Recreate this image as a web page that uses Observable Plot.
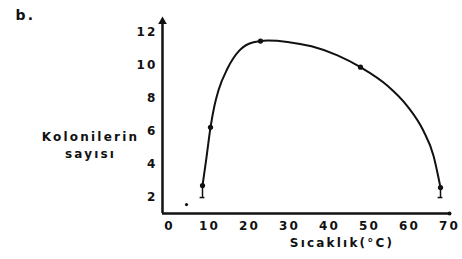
<!DOCTYPE html>
<html>
<head>
<meta charset="utf-8">
<script src="https://cdn.jsdelivr.net/npm/d3@7"></script>
<script src="https://cdn.jsdelivr.net/npm/@observablehq/plot@0.6"></script>
<style>
  html, body { margin: 0; padding: 0; background: #fff; }
  #chart svg { display: block; }
  #chart svg text { letter-spacing: 2.2px; font-weight: bold; }
</style>
</head>
<body>
<div id="chart"></div>
<script>
// Fitted curve (temperature °C, colony count)
const curveTemp  = [8.75, 9.75, 10.75, 11.75, 12.75, 15, 18, 21.5, 25, 30, 36, 42.5, 48.25, 55, 60, 64, 66.5, 68.25];
const curveCount = [2.68, 4.4, 6.22, 7.55, 8.48, 9.8, 10.9, 11.4, 11.5, 11.42, 11.15, 10.6, 9.88, 8.75, 7.5, 6.0, 4.5, 2.56];

// Measured points
const pointTemp  = [8.75, 10.75, 23.25, 48.25, 68.25];
const pointCount = [2.68, 6.22, 11.47, 9.88, 2.56];

// Isolated point with no growth curve
const lonePointTemp  = [4.75];
const lonePointCount = [1.52];

// Short vertical bars below the end points
const barTemp = [8.75, 68.25];
const barLow  = [1.95, 1.95];
const barHigh = [2.68, 2.56];

const xTicks = [0, 10, 20, 30, 40, 50, 60, 70];
const yTicks = [2, 4, 6, 8, 10, 12];

const xDomain = [-1.25, 70.5];
const yDomain = [0.98, 12.6];

const curve = curveTemp.map((t, i) => ({t, c: curveCount[i]}));
const points = pointTemp.map((t, i) => ({t, c: pointCount[i]}));
const lone = lonePointTemp.map((t, i) => ({t, c: lonePointCount[i]}));
const bars = barTemp.map((t, i) => ({t, lo: barLow[i], hi: barHigh[i]}));

const font = "'DejaVu Sans', sans-serif";
const capHalf = 0.6;

const chart = Plot.plot({
  width: 462,
  height: 259,
  marginLeft: 162,
  marginRight: 13,
  marginTop: 22,
  marginBottom: 46,
  style: {fontFamily: font, fontSize: "12px", color: "#111", background: "#fff"},
  x: {type: "linear", domain: xDomain, label: null},
  y: {type: "linear", domain: yDomain, label: null},
  marks: [
    Plot.axisX({ticks: xTicks, tickSize: 0, tickPadding: 8, fontSize: 12, label: null, dx: 2}),
    Plot.axisY({ticks: yTicks, tickSize: 0, tickPadding: 5, fontSize: 12, label: null}),
    Plot.ruleY([yDomain[0]], {stroke: "#111", strokeWidth: 2.5}),
    Plot.ruleX([xDomain[0]], {stroke: "#111", strokeWidth: 2.5}),
    Plot.dot([{t: xDomain[0], c: yDomain[1]}], {x: "t", y: "c", symbol: "triangle", r: 3.2, fill: "#111", dy: -1}),
    Plot.dot([{t: xDomain[1], c: yDomain[0]}], {x: "t", y: "c", r: 2, fill: "#111"}),
    Plot.line(curve, {x: "t", y: "c", curve: "monotone-x", stroke: "#111", strokeWidth: 2}),
    Plot.ruleX(bars, {x: "t", y1: "lo", y2: "hi", stroke: "#111", strokeWidth: 1.5}),
    Plot.ruleY(bars, {y: "lo", x1: d => d.t - capHalf, x2: d => d.t + capHalf, stroke: "#111", strokeWidth: 1.5}),
    Plot.dot(points, {x: "t", y: "c", r: 2.6, fill: "#111"}),
    Plot.dot(lone, {x: "t", y: "c", r: 1.6, fill: "#111"}),
    Plot.text(["b."], {frameAnchor: "top-left", dx: -147, dy: -12, fontSize: 14, textAnchor: "start"}),
    Plot.text(["Kolonilerin\nsayısı"], {frameAnchor: "left", dx: -72, dy: 26, fontSize: 12, lineHeight: 1.45, textAnchor: "middle"}),
    Plot.text(["Sıcaklık(°C)"], {frameAnchor: "bottom", dx: 36, dy: 33, fontSize: 12, textAnchor: "middle"})
  ]
});
document.getElementById("chart").appendChild(chart);
</script>
</body>
</html>
